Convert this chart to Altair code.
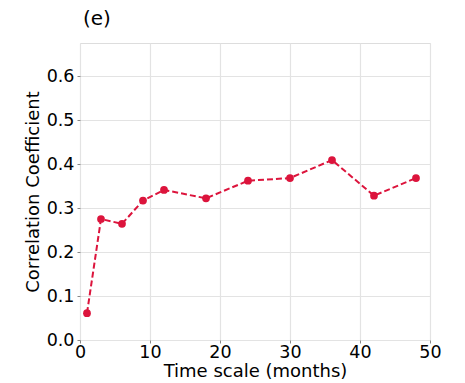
import altair as alt
import pandas as pd

months = [1, 3, 6, 9, 12, 18, 24, 30, 36, 42, 48]
corr = [0.061, 0.275, 0.264, 0.317, 0.341, 0.322, 0.362, 0.368, 0.409, 0.328, 0.368]

df = pd.DataFrame({"months": months, "corr": corr})

FONT = "DejaVu Sans"
COLOR = "#DC143C"

x = alt.X("months:Q", scale=alt.Scale(domain=[0, 50], nice=False, zero=False),
          axis=alt.Axis(title="Time scale (months)", values=[0, 10, 20, 30, 40, 50],
                        format="d", labelFontSize=17.5, titleFontSize=18, titleFontWeight="normal",
                        labelFont=FONT, titleFont=FONT, labelColor="black", titleColor="black",
                        tickColor="#888", tickSize=3, domain=False, labelPadding=0, titlePadding=2,
                        gridColor="#e3e3e3", gridWidth=1.2, labelFlush=False))
y = alt.Y("corr:Q", scale=alt.Scale(domain=[0, 0.675], nice=False),
          axis=alt.Axis(title="Correlation Coefficient", values=[0, 0.1, 0.2, 0.3, 0.4, 0.5, 0.6],
                        format=".1f", labelFontSize=17.5, titleFontSize=18, titleFontWeight="normal",
                        labelFont=FONT, titleFont=FONT, labelColor="black", titleColor="black",
                        tickColor="#888", tickSize=3, domain=False, labelPadding=3, titlePadding=4,
                        gridColor="#e3e3e3", gridWidth=1.2, labelFlush=False))

line = alt.Chart(df).mark_line(color=COLOR, strokeWidth=2, strokeDash=[6, 3]).encode(x=x, y=y)
pts = alt.Chart(df).mark_circle(color=COLOR, size=60, opacity=1).encode(x=x, y=y)

chart = (line + pts).properties(
    width=350, height=297,
    autosize=alt.AutoSizeParams(type="none"),
    padding={"left": 80, "top": 43, "right": 35, "bottom": 43},
    title=alt.TitleParams("(e)", anchor="start", frame="group", fontSize=20, font=FONT,
                          fontWeight="normal", color="black", offset=14, dx=3),
).configure_view(stroke="#888", strokeWidth=1.2).configure(background="white")

chart.save("out.html", embed_options={"renderer": "svg", "actions": False})
